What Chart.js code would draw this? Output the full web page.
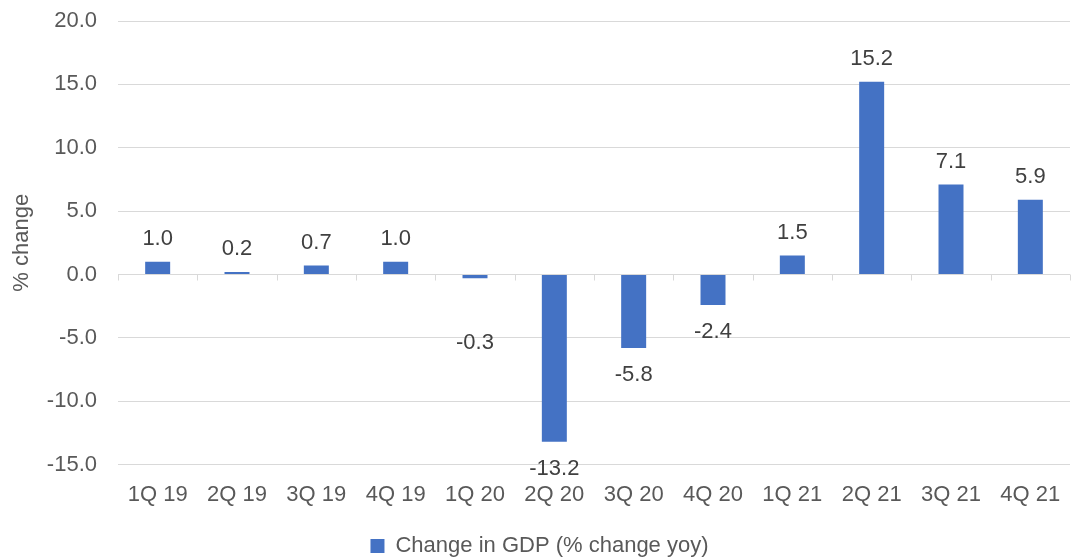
<!DOCTYPE html>
<html>
<head>
<meta charset="utf-8">
<script src="https://cdn.jsdelivr.net/npm/chart.js@4/dist/chart.umd.min.js"></script>
<style>
    html, body { margin: 0; padding: 0; background: #fff; }
    #wrap { width: 1073px; height: 558px; }
</style>
</head>
<body>
<div id="wrap"><canvas id="gdpChart" width="1073" height="558"></canvas></div>
<script>
const quarters = ['1Q 19', '2Q 19', '3Q 19', '4Q 19', '1Q 20', '2Q 20', '3Q 20', '4Q 20', '1Q 21', '2Q 21', '3Q 21', '4Q 21'];
const gdpChange = [1.0, 0.2, 0.7, 1.0, -0.3, -13.2, -5.8, -2.4, 1.5, 15.2, 7.1, 5.9];
const yTicks = [-15, -10, -5, 0, 5, 10, 15, 20];
const seriesName = 'Change in GDP (% change yoy)';

const fontFamily = '"Liberation Sans", Arial, sans-serif';
const fontSize = 22;

// zero line with the small category ticks + value labels
const zeroAxisAndLabels = {
    id: 'zeroAxisAndLabels',
    afterDatasetsDraw(chart, args, opts) {
        const c = chart.ctx;
        const xs = chart.scales.x;
        const ys = chart.scales.y;
        const y0 = Math.round(ys.getPixelForValue(0)) + 0.5;
        c.save();
        c.strokeStyle = '#d9d9d9';
        c.lineWidth = 1;
        c.beginPath();
        c.moveTo(xs.left, y0);
        c.lineTo(xs.right, y0);
        const step = (xs.right - xs.left) / quarters.length;
        for (let i = 0; i <= quarters.length; i++) {
            const x = Math.round(xs.left + i * step) + 0.5;
            c.moveTo(x, y0);
            c.lineTo(x, y0 + 6);
        }
        c.stroke();

        c.fillStyle = '#404040';
        c.font = fontSize + 'px ' + fontFamily;
        c.textAlign = 'center';
        c.textBaseline = 'middle';
        const meta = chart.getDatasetMeta(0);
        meta.data.forEach((bar, i) => {
            const v = gdpChange[i];
            let y = v >= 0 ? bar.y - 23 : bar.y + 27;
            if (opts.shift && opts.shift[i]) y += opts.shift[i];
            c.fillText(v.toFixed(1), bar.x, y);
        });
        c.restore();
    }
};

const ctx = document.getElementById('gdpChart').getContext('2d');
new Chart(ctx, {
    type: 'bar',
    data: {
        labels: quarters,
        datasets: [{
            label: seriesName,
            data: gdpChange,
            backgroundColor: '#4472c4',
            borderWidth: 0,
            barPercentage: 0.315,
            categoryPercentage: 1
        }]
    },
    options: {
        responsive: false,
        animation: false,
        layout: { padding: { top: 0, right: 3, left: 9, bottom: -9 } },
        scales: {
            x: {
                grid: { display: false },
                border: { display: false },
                ticks: { color: '#595959', font: { size: fontSize, family: fontFamily }, padding: 9, maxRotation: 0, autoSkip: false }
            },
            y: {
                min: -15,
                max: 20,
                afterBuildTicks: axis => { axis.ticks = yTicks.map(v => ({ value: v })); },
                afterFit: axis => {
                    axis.width = 109;
                    axis.paddingTop = 21;
                    axis.paddingBottom = 13;
                },
                grid: { color: '#d9d9d9', lineWidth: 1, drawTicks: false },
                border: { display: false },
                ticks: {
                    color: '#595959',
                    font: { size: fontSize, family: fontFamily },
                    padding: 21,
                    callback: v => Number(v).toFixed(1)
                },
                title: {
                    display: true,
                    text: '% change',
                    color: '#595959',
                    font: { size: fontSize, family: fontFamily },
                    padding: { top: 0, bottom: 0 }
                }
            }
        },
        plugins: {
            legend: {
                display: true,
                position: 'bottom',
                labels: {
                    color: '#595959',
                    font: { size: fontSize, family: fontFamily },
                    boxWidth: 14,
                    boxHeight: 14,
                    padding: 18
                }
            },
            tooltip: { enabled: false },
            zeroAxisAndLabels: { shift: { 4: 38 } }
        }
    },
    plugins: [zeroAxisAndLabels]
});
</script>
</body>
</html>
